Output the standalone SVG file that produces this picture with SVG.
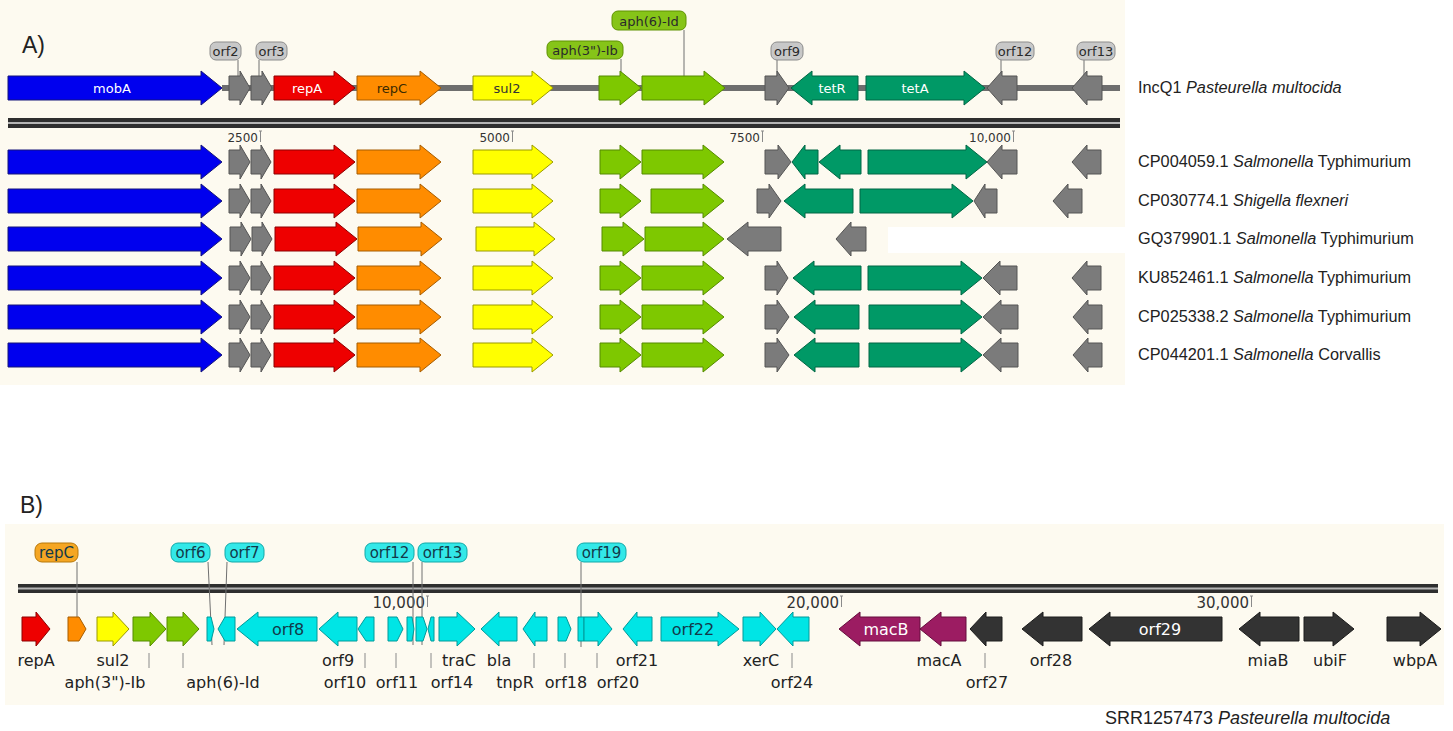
<svg xmlns="http://www.w3.org/2000/svg" width="1453" height="731" viewBox="0 0 1453 731">
  <style>
    .bg { fill: #fdfaf0; }
    .gray { fill: #7b7b7b; stroke: #555; stroke-width: 1; }
    .blue { fill: #0000ee; stroke: #15157a; stroke-width: 1; }
    .red { fill: #ee0000; stroke: #8c0000; stroke-width: 1; }
    .orange { fill: #ff8c00; stroke: #a65c00; stroke-width: 1; }
    .yellow { fill: #ffff00; stroke: #9a9a00; stroke-width: 1; }
    .lime { fill: #7ec800; stroke: #558a00; stroke-width: 1; }
    .teal { fill: #009966; stroke: #006644; stroke-width: 1; }
    .cyan { fill: #00e5e5; stroke: #009a9a; stroke-width: 1; }
    .purple { fill: #9c1c62; stroke: #650c3d; stroke-width: 1; }
    .dark { fill: #333; stroke: #1c1c1c; stroke-width: 1; }
    .backbone { stroke: #6e6e6e; stroke-width: 6; }
    .lead { stroke: #707070; stroke-width: 1; fill: none; }
    .tickln { stroke: #8a8a8a; stroke-width: 1; }
    .tag { stroke-width: 1; }
    .tag-gray { fill: #c8c8c8; stroke: #8c8c8c; }
    .tag-lime { fill: #86c418; stroke: #5e9200; }
    .tag-cyan { fill: #33e8e8; stroke: #10a8a8; }
    .tag-orange { fill: #f5a623; stroke: #b8780a; }
    .tagtxt { font-family: "DejaVu Sans", sans-serif; font-size: 13px; fill: #2a2a2a; text-anchor: middle; }
    .tagtxtB { font-family: "DejaVu Sans", sans-serif; font-size: 15px; fill: #123a4a; text-anchor: middle; }
    .in { font-family: "DejaVu Sans", sans-serif; font-size: 13px; text-anchor: middle; dominant-baseline: central; }
    .inB { font-family: "DejaVu Sans", sans-serif; font-size: 16px; text-anchor: middle; dominant-baseline: central; }
    .scale { font-family: "DejaVu Sans", sans-serif; font-size: 12px; fill: #333; text-anchor: end; }
    .scaleB { font-family: "DejaVu Sans", sans-serif; font-size: 15px; fill: #333; text-anchor: end; }
    .gname { font-family: "DejaVu Sans", sans-serif; font-size: 16px; fill: #222; text-anchor: middle; }
    .rowlab { font-family: "Liberation Sans", Arial, sans-serif; font-size: 16.3px; fill: #222; }
    .caption { font-family: "Liberation Sans", Arial, sans-serif; font-size: 18px; fill: #222; }
    .panel { font-family: "Liberation Sans", Arial, sans-serif; font-size: 23px; fill: #222; }
    .it { font-style: italic; }
  </style>

  <!-- panel backgrounds -->
  <rect width="1453" height="731" fill="#ffffff"/>
  <rect class="bg" x="0" y="0" width="1125" height="385"/>
  <rect x="888" y="227" width="237" height="26" fill="#ffffff"/>
  <rect class="bg" x="5" y="524" width="1439" height="181"/>

  <text class="panel" x="22" y="53">A)</text>
  <text class="panel" x="20" y="513">B)</text>

  <!-- ===================== Panel A : reference plasmid ===================== -->
  <g id="connectors-A">
    <line class="backbone" x1="222" y1="88" x2="1120" y2="88"/>
    <line class="lead" x1="238" y1="60" x2="238" y2="84"/>
    <line class="lead" x1="259" y1="60" x2="259" y2="84"/>
    <line class="lead" x1="621" y1="59" x2="621" y2="82"/>
    <line class="lead" x1="684" y1="30" x2="684" y2="84"/>
    <line class="lead" x1="777" y1="60" x2="777" y2="84"/>
    <line class="lead" x1="1001" y1="60" x2="1001" y2="84"/>
    <line class="lead" x1="1084" y1="60" x2="1084" y2="84"/>
  </g>

  <g id="incq1" transform="translate(0,88)">
    <g id="a-mobA"><path class="blue" d="M8,-12H201V-17L222,0L201,17V12H8Z"/><text class="in" x="112" y="0" fill="#fff">mobA</text></g>
    <g id="a-orf2"><path class="gray" d="M229,-12H240V-17L250,0L240,17V12H229Z"/></g>
    <g id="a-orf3"><path class="gray" d="M251,-12H262V-17L272,0L262,17V12H251Z"/></g>
    <g id="a-repA"><path class="red" d="M274,-12H334V-17L355,0L334,17V12H274Z"/><text class="in" x="307" y="0" fill="#fff">repA</text></g>
    <g id="a-repC"><path class="orange" d="M357,-12H420V-17L441,0L420,17V12H357Z"/><text class="in" x="392" y="0" fill="#3a2a00">repC</text></g>
    <g id="a-sul2"><path class="yellow" d="M473,-12H532V-17L553,0L532,17V12H473Z"/><text class="in" x="507" y="0" fill="#333">sul2</text></g>
    <g id="a-aph3"><path class="lime" d="M599,-12H620V-17L641,0L620,17V12H599Z"/></g>
    <g id="a-aph6"><path class="lime" d="M642,-12H704V-17L725,0L704,17V12H642Z"/></g>
    <g id="a-orf9"><path class="gray" d="M765,-12H777V-17L789,0L777,17V12H765Z"/></g>
    <g id="a-tetR"><path class="teal" d="M858,-12H812V-17L791,0L812,17V12H858Z"/><text class="in" x="832" y="0" fill="#fff">tetR</text></g>
    <g id="a-tetA"><path class="teal" d="M866,-12H964V-17L985,0L964,17V12H866Z"/><text class="in" x="915" y="0" fill="#fff">tetA</text></g>
    <g id="a-orf12"><path class="gray" d="M1017,-12H1002V-17L987,0L1002,17V12H1017Z"/></g>
    <g id="a-orf13"><path class="gray" d="M1102,-12H1087V-17L1072,0L1087,17V12H1102Z"/></g>
  </g>

  <!-- gene tags above the reference plasmid -->
  <g id="tags-A">
    <g id="tag-orf2"><rect class="tag tag-gray" x="210" y="42" width="31" height="18" rx="6"/><text class="tagtxt" x="225.5" y="56">orf2</text></g>
    <g id="tag-orf3"><rect class="tag tag-gray" x="256" y="42" width="31" height="18" rx="6"/><text class="tagtxt" x="271.5" y="56">orf3</text></g>
    <g id="tag-aph3"><rect class="tag tag-lime" x="547" y="41" width="76" height="18" rx="6"/><text class="tagtxt" x="585" y="55">aph(3")-Ib</text></g>
    <g id="tag-aph6"><rect class="tag tag-lime" x="612" y="11" width="74" height="19" rx="6"/><text class="tagtxt" x="649" y="25.5">aph(6)-Id</text></g>
    <g id="tag-orf9"><rect class="tag tag-gray" x="771" y="42" width="32" height="18" rx="6"/><text class="tagtxt" x="787" y="56">orf9</text></g>
    <g id="tag-orf12"><rect class="tag tag-gray" x="996" y="42" width="38" height="18" rx="6"/><text class="tagtxt" x="1015" y="56">orf12</text></g>
    <g id="tag-orf13"><rect class="tag tag-gray" x="1077" y="42" width="38" height="18" rx="6"/><text class="tagtxt" x="1096" y="56">orf13</text></g>
  </g>

  <text class="rowlab" x="1138" y="93">IncQ1 <tspan class="it">Pasteurella multocida</tspan></text>

  <!-- sequence ruler A -->
  <g id="ruler-A">
    <rect x="8" y="118" width="1112" height="10" fill="#2e2e2e"/>
    <line x1="8" y1="123" x2="1120" y2="123" stroke="#b5b5b5" stroke-width="2"/>
    <text class="scale" x="258" y="142">2500</text>
    <path class="tickln" d="M260.5,131V142M259,131H262" stroke="#333"/>
    <text class="scale" x="510" y="142">5000</text>
    <path class="tickln" d="M512.5,131V142M511,131H514" stroke="#333"/>
    <text class="scale" x="760" y="142">7500</text>
    <path class="tickln" d="M762.5,131V142M761,131H764" stroke="#333"/>
    <text class="scale" x="1011" y="142">10,000</text>
    <path class="tickln" d="M1013.5,131V142M1012,131H1015" stroke="#333"/>
  </g>

  <!-- ===================== Panel A : compared plasmids ===================== -->
  <g id="row-CP004059" transform="translate(0,162)">
    <path class="blue" d="M8,-12H201V-17L222,0L201,17V12H8Z"/>
    <path class="gray" d="M229,-12H240V-17L250,0L240,17V12H229Z"/>
    <path class="gray" d="M251,-12H261V-17L271,0L261,17V12H251Z"/>
    <path class="red" d="M274,-12H334V-17L355,0L334,17V12H274Z"/>
    <path class="orange" d="M357,-12H420V-17L441,0L420,17V12H357Z"/>
    <path class="yellow" d="M473,-12H532V-17L553,0L532,17V12H473Z"/>
    <path class="lime" d="M600,-12H620V-17L641,0L620,17V12H600Z"/>
    <path class="lime" d="M642,-12H703V-17L724,0L703,17V12H642Z"/>
    <path class="gray" d="M765,-12H778V-17L791,0L778,17V12H765Z"/>
    <path class="teal" d="M818,-12H805V-17L792,0L805,17V12H818Z"/>
    <path class="teal" d="M861,-12H840V-17L819,0L840,17V12H861Z"/>
    <path class="teal" d="M868,-12H966V-17L987,0L966,17V12H868Z"/>
    <path class="gray" d="M1017,-12H1002V-17L987,0L1002,17V12H1017Z"/>
    <path class="gray" d="M1101,-12H1087V-17L1072,0L1087,17V12H1101Z"/>
  </g>
  <text class="rowlab" x="1138" y="167">CP004059.1 <tspan class="it">Salmonella</tspan> Typhimurium</text>

  <g id="row-CP030774" transform="translate(0,201)">
    <path class="blue" d="M8,-12H201V-17L222,0L201,17V12H8Z"/>
    <path class="gray" d="M229,-12H240V-17L250,0L240,17V12H229Z"/>
    <path class="gray" d="M251,-12H261V-17L271,0L261,17V12H251Z"/>
    <path class="red" d="M274,-12H334V-17L355,0L334,17V12H274Z"/>
    <path class="orange" d="M357,-12H420V-17L441,0L420,17V12H357Z"/>
    <path class="yellow" d="M473,-12H532V-17L553,0L532,17V12H473Z"/>
    <path class="lime" d="M600,-12H620V-17L641,0L620,17V12H600Z"/>
    <path class="lime" d="M651,-12H703V-17L724,0L703,17V12H651Z"/>
    <path class="gray" d="M757,-12H769V-17L781,0L769,17V12H757Z"/>
    <path class="teal" d="M853,-12H805V-17L784,0L805,17V12H853Z"/>
    <path class="teal" d="M860,-12H952V-17L973,0L952,17V12H860Z"/>
    <path class="gray" d="M997,-12H985V-17L974,0L985,17V12H997Z"/>
    <path class="gray" d="M1082,-12H1068V-17L1053,0L1068,17V12H1082Z"/>
  </g>
  <text class="rowlab" x="1138" y="206">CP030774.1 <tspan class="it">Shigella flexneri</tspan></text>

  <g id="row-GQ379901" transform="translate(0,239)">
    <path class="blue" d="M8,-12H201V-17L222,0L201,17V12H8Z"/>
    <path class="gray" d="M230,-12H241V-17L251,0L241,17V12H230Z"/>
    <path class="gray" d="M252,-12H262V-17L272,0L262,17V12H252Z"/>
    <path class="red" d="M275,-12H336V-17L357,0L336,17V12H275Z"/>
    <path class="orange" d="M358,-12H421V-17L442,0L421,17V12H358Z"/>
    <path class="yellow" d="M476,-12H534V-17L555,0L534,17V12H476Z"/>
    <path class="lime" d="M602,-12H623V-17L644,0L623,17V12H602Z"/>
    <path class="lime" d="M645,-12H703V-17L724,0L703,17V12H645Z"/>
    <path class="gray" d="M781,-12H748V-17L727,0L748,17V12H781Z"/>
    <path class="gray" d="M866,-12H851V-17L836,0L851,17V12H866Z"/>
  </g>
  <text class="rowlab" x="1138" y="244">GQ379901.1 <tspan class="it">Salmonella</tspan> Typhimurium</text>

  <g id="row-KU852461" transform="translate(0,278)">
    <path class="blue" d="M8,-12H201V-17L222,0L201,17V12H8Z"/>
    <path class="gray" d="M229,-12H240V-17L250,0L240,17V12H229Z"/>
    <path class="gray" d="M251,-12H261V-17L271,0L261,17V12H251Z"/>
    <path class="red" d="M274,-12H334V-17L355,0L334,17V12H274Z"/>
    <path class="orange" d="M357,-12H420V-17L441,0L420,17V12H357Z"/>
    <path class="yellow" d="M473,-12H532V-17L553,0L532,17V12H473Z"/>
    <path class="lime" d="M600,-12H620V-17L641,0L620,17V12H600Z"/>
    <path class="lime" d="M642,-12H703V-17L724,0L703,17V12H642Z"/>
    <path class="gray" d="M765,-12H777V-17L788,0L777,17V12H765Z"/>
    <path class="teal" d="M861,-12H814V-17L793,0L814,17V12H861Z"/>
    <path class="teal" d="M868,-12H961V-17L982,0L961,17V12H868Z"/>
    <path class="gray" d="M1017,-12H1000V-17L983,0L1000,17V12H1017Z"/>
    <path class="gray" d="M1101,-12H1087V-17L1072,0L1087,17V12H1101Z"/>
  </g>
  <text class="rowlab" x="1138" y="283">KU852461.1 <tspan class="it">Salmonella</tspan> Typhimurium</text>

  <g id="row-CP025338" transform="translate(0,317)">
    <path class="blue" d="M8,-12H201V-17L222,0L201,17V12H8Z"/>
    <path class="gray" d="M229,-12H240V-17L250,0L240,17V12H229Z"/>
    <path class="gray" d="M251,-12H261V-17L271,0L261,17V12H251Z"/>
    <path class="red" d="M274,-12H334V-17L355,0L334,17V12H274Z"/>
    <path class="orange" d="M357,-12H420V-17L441,0L420,17V12H357Z"/>
    <path class="yellow" d="M473,-12H532V-17L553,0L532,17V12H473Z"/>
    <path class="lime" d="M600,-12H620V-17L641,0L620,17V12H600Z"/>
    <path class="lime" d="M642,-12H703V-17L724,0L703,17V12H642Z"/>
    <path class="gray" d="M765,-12H777V-17L789,0L777,17V12H765Z"/>
    <path class="teal" d="M859,-12H815V-17L794,0L815,17V12H859Z"/>
    <path class="teal" d="M869,-12H961V-17L982,0L961,17V12H869Z"/>
    <path class="gray" d="M1018,-12H1001V-17L983,0L1001,17V12H1018Z"/>
    <path class="gray" d="M1102,-12H1088V-17L1073,0L1088,17V12H1102Z"/>
  </g>
  <text class="rowlab" x="1138" y="322">CP025338.2 <tspan class="it">Salmonella</tspan> Typhimurium</text>

  <g id="row-CP044201" transform="translate(0,355)">
    <path class="blue" d="M8,-12H201V-17L222,0L201,17V12H8Z"/>
    <path class="gray" d="M229,-12H240V-17L250,0L240,17V12H229Z"/>
    <path class="gray" d="M251,-12H261V-17L271,0L261,17V12H251Z"/>
    <path class="red" d="M274,-12H334V-17L355,0L334,17V12H274Z"/>
    <path class="orange" d="M357,-12H420V-17L441,0L420,17V12H357Z"/>
    <path class="yellow" d="M473,-12H532V-17L553,0L532,17V12H473Z"/>
    <path class="lime" d="M600,-12H620V-17L641,0L620,17V12H600Z"/>
    <path class="lime" d="M642,-12H703V-17L724,0L703,17V12H642Z"/>
    <path class="gray" d="M765,-12H777V-17L789,0L777,17V12H765Z"/>
    <path class="teal" d="M859,-12H815V-17L794,0L815,17V12H859Z"/>
    <path class="teal" d="M869,-12H961V-17L982,0L961,17V12H869Z"/>
    <path class="gray" d="M1018,-12H1001V-17L983,0L1001,17V12H1018Z"/>
    <path class="gray" d="M1102,-12H1088V-17L1073,0L1088,17V12H1102Z"/>
  </g>
  <text class="rowlab" x="1138" y="360">CP044201.1 <tspan class="it">Salmonella</tspan> Corvallis</text>

  <!-- ===================== Panel B : SRR1257473 contig ===================== -->
  <g id="ruler-B">
    <rect x="18" y="584" width="1420" height="9" fill="#2e2e2e"/>
    <line x1="18" y1="588.5" x2="1438" y2="588.5" stroke="#b5b5b5" stroke-width="2"/>
    <text class="scaleB" x="425" y="608">10,000</text>
    <path class="tickln" d="M427.5,596V607M426,596H429" stroke="#333"/>
    <text class="scaleB" x="839" y="608">20,000</text>
    <path class="tickln" d="M841.5,596V607M840,596H843" stroke="#333"/>
    <text class="scaleB" x="1249" y="608">30,000</text>
    <path class="tickln" d="M1251.5,596V607M1250,596H1253" stroke="#333"/>
  </g>

  <g id="connectors-B">
    <line class="lead" x1="77" y1="562" x2="77" y2="641"/>
    <line class="lead" x1="208" y1="562" x2="212" y2="645"/>
    <line class="lead" x1="227" y1="562" x2="224" y2="645"/>
    <line class="lead" x1="413" y1="562" x2="413" y2="645"/>
    <line class="lead" x1="422" y1="562" x2="422" y2="645"/>
    <line class="lead" x1="581" y1="562" x2="581" y2="647"/>
    <line class="tickln" x1="149" y1="653" x2="149" y2="668"/>
    <line class="tickln" x1="183" y1="653" x2="183" y2="668"/>
    <line class="tickln" x1="365" y1="653" x2="365" y2="668"/>
    <line class="tickln" x1="396" y1="653" x2="396" y2="668"/>
    <line class="tickln" x1="431" y1="653" x2="431" y2="668"/>
    <line class="tickln" x1="534" y1="653" x2="534" y2="668"/>
    <line class="tickln" x1="565" y1="653" x2="565" y2="668"/>
    <line class="tickln" x1="597" y1="653" x2="597" y2="668"/>
    <line class="tickln" x1="792" y1="653" x2="792" y2="668"/>
    <line class="tickln" x1="985" y1="653" x2="985" y2="668"/>
  </g>

  <g id="contig" transform="translate(0,629)">
    <g id="b-repA"><path class="red" d="M22,-12H36V-17L50,0L36,17V12H22Z"/></g>
    <g id="b-repC"><path class="orange" d="M68,-12H79L86,0L79,12H68Z"/></g>
    <g id="b-sul2"><path class="yellow" d="M97,-12H113V-17L129,0L113,17V12H97Z"/></g>
    <g id="b-aph3"><path class="lime" d="M133,-12H150V-17L166,0L150,17V12H133Z"/></g>
    <g id="b-aph6"><path class="lime" d="M167,-12H183V-17L199,0L183,17V12H167Z"/></g>
    <g id="b-orf6"><path class="cyan" d="M207,-12H211L214,0L211,12H207Z"/></g>
    <g id="b-orf7"><path class="cyan" d="M235,-12H225L218,0L225,12H235Z"/></g>
    <g id="b-orf8"><path class="cyan" d="M317,-12H258V-17L237,0L258,17V12H317Z"/><text class="inB" x="288" y="0" fill="#123a4a">orf8</text></g>
    <g id="b-orf9"><path class="cyan" d="M357,-12H338V-17L319,0L338,17V12H357Z"/></g>
    <g id="b-orf10"><path class="cyan" d="M374,-12H366L358,0L366,12H374Z"/></g>
    <g id="b-orf11"><path class="cyan" d="M388,-12H397L403,0L397,12H388Z"/></g>
    <g id="b-orf12"><path class="cyan" d="M407,-12H412L414,0L412,12H407Z"/></g>
    <g id="b-orf13"><path class="cyan" d="M416,-12H423L427,0L423,12H416Z"/></g>
    <g id="b-orf14"><path class="cyan" d="M434,-12H431L428,0L431,12H434Z"/></g>
    <g id="b-traC"><path class="cyan" d="M439,-12H457V-17L475,0L457,17V12H439Z"/></g>
    <g id="b-bla"><path class="cyan" d="M517,-12H499V-17L481,0L499,17V12H517Z"/></g>
    <g id="b-tnpR"><path class="cyan" d="M547,-12H535V-17L523,0L535,17V12H547Z"/></g>
    <g id="b-orf18"><path class="cyan" d="M558,-12H566L571,0L566,12H558Z"/></g>
    <g id="b-orf19"><path class="cyan" d="M578,-12H584V12H578Z"/></g>
    <g id="b-orf20"><path class="cyan" d="M584,-12H598V-17L612,0L598,17V12H584Z"/></g>
    <g id="b-orf21"><path class="cyan" d="M652,-12H637V-17L623,0L637,17V12H652Z"/></g>
    <g id="b-orf22"><path class="cyan" d="M661,-12H718V-17L739,0L718,17V12H661Z"/><text class="inB" x="693" y="0" fill="#123a4a">orf22</text></g>
    <g id="b-xerC"><path class="cyan" d="M743,-12H760V-17L776,0L760,17V12H743Z"/></g>
    <g id="b-orf24"><path class="cyan" d="M809,-12H793V-17L777,0L793,17V12H809Z"/></g>
    <g id="b-macB"><path class="purple" d="M920,-12H860V-17L839,0L860,17V12H920Z"/><text class="inB" x="886" y="0" fill="#fff">macB</text></g>
    <g id="b-macA"><path class="purple" d="M966,-12H941V-17L920,0L941,17V12H966Z"/></g>
    <g id="b-orf27"><path class="dark" d="M1002,-12H986V-17L970,0L986,17V12H1002Z"/></g>
    <g id="b-orf28"><path class="dark" d="M1082,-12H1043V-17L1022,0L1043,17V12H1082Z"/></g>
    <g id="b-orf29"><path class="dark" d="M1222,-12H1110V-17L1089,0L1110,17V12H1222Z"/><text class="inB" x="1160" y="0" fill="#fff">orf29</text></g>
    <g id="b-miaB"><path class="dark" d="M1299,-12H1260V-17L1239,0L1260,17V12H1299Z"/></g>
    <g id="b-ubiF"><path class="dark" d="M1304,-12H1333V-17L1354,0L1333,17V12H1304Z"/></g>
    <g id="b-wbpA"><path class="dark" d="M1387,-12H1420V-17L1441,0L1420,17V12H1387Z"/></g>
  </g>

  <!-- tags above the contig -->
  <g id="tags-B">
    <g id="tag-repC"><rect class="tag tag-orange" x="35" y="543" width="43" height="19" rx="7"/><text class="tagtxtB" x="56.5" y="558">repC</text></g>
    <g id="tag-orf6"><rect class="tag tag-cyan" x="171" y="543" width="39" height="19" rx="7"/><text class="tagtxtB" x="190.5" y="558">orf6</text></g>
    <g id="tag-orf7"><rect class="tag tag-cyan" x="225" y="543" width="39" height="19" rx="7"/><text class="tagtxtB" x="244.5" y="558">orf7</text></g>
    <g id="tag-orf12"><rect class="tag tag-cyan" x="365" y="543" width="49" height="19" rx="7"/><text class="tagtxtB" x="389.5" y="558">orf12</text></g>
    <g id="tag-orf13"><rect class="tag tag-cyan" x="418" y="543" width="49" height="19" rx="7"/><text class="tagtxtB" x="442.5" y="558">orf13</text></g>
    <g id="tag-orf19"><rect class="tag tag-cyan" x="577" y="543" width="49" height="19" rx="7"/><text class="tagtxtB" x="601.5" y="558">orf19</text></g>
  </g>

  <!-- gene names under the contig -->
  <g id="names-B">
    <text class="gname" x="36" y="666">repA</text>
    <text class="gname" x="113" y="666">sul2</text>
    <text class="gname" x="338" y="666">orf9</text>
    <text class="gname" x="459" y="666">traC</text>
    <text class="gname" x="499" y="666">bla</text>
    <text class="gname" x="637" y="666">orf21</text>
    <text class="gname" x="761" y="666">xerC</text>
    <text class="gname" x="939" y="666">macA</text>
    <text class="gname" x="1051" y="666">orf28</text>
    <text class="gname" x="1268" y="666">miaB</text>
    <text class="gname" x="1330" y="666">ubiF</text>
    <text class="gname" x="1415" y="666">wbpA</text>
    <text class="gname" x="105" y="688">aph(3")-Ib</text>
    <text class="gname" x="223" y="688">aph(6)-Id</text>
    <text class="gname" x="345" y="688">orf10</text>
    <text class="gname" x="397" y="688">orf11</text>
    <text class="gname" x="452" y="688">orf14</text>
    <text class="gname" x="515" y="688">tnpR</text>
    <text class="gname" x="566" y="688">orf18</text>
    <text class="gname" x="618" y="688">orf20</text>
    <text class="gname" x="792" y="688">orf24</text>
    <text class="gname" x="987" y="688">orf27</text>
  </g>

  <text class="caption" x="1105" y="724">SRR1257473 <tspan class="it">Pasteurella multocida</tspan></text>
</svg>
